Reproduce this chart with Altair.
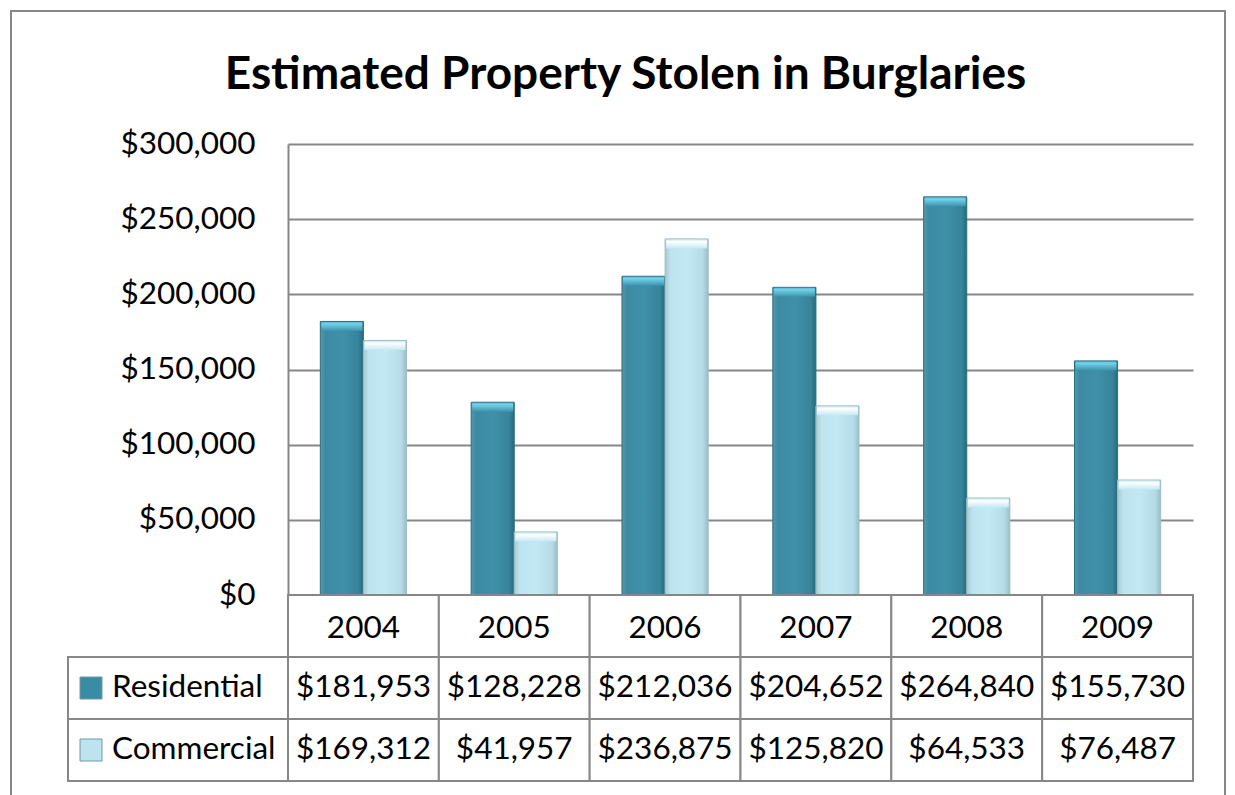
import altair as alt
import pandas as pd

# ---------------- data ----------------
years = ["2004", "2005", "2006", "2007", "2008", "2009"]
residential = [181953, 128228, 212036, 204652, 264840, 155730]
commercial = [169312, 41957, 236875, 125820, 64533, 76487]
series_names = ["Residential", "Commercial"]
y_ticks = [0, 50000, 100000, 150000, 200000, 250000, 300000]
title_text = "Estimated Property Stolen in Burglaries"

res_df = pd.DataFrame({"year": years, "series": "Residential", "value": residential})
com_df = pd.DataFrame({"year": years, "series": "Commercial", "value": commercial})
long_df = pd.concat([res_df, com_df], ignore_index=True)
tbl_df = long_df.assign(row=long_df["series"])
hdr_df = pd.DataFrame({"year": years, "row": "hdr"})
row_df = pd.DataFrame({"row": series_names})
frame_df = pd.DataFrame({"a": [0]})

# ---------------- styling ----------------
W, H = 905, 451
TAB_TOP, TAB_BOT = 451, 637
GRAY = "#878787"
FONT = "Lato"
FS = 31.5

res_grad = {"gradient": "linear", "x1": 0, "x2": 1, "y1": 0, "y2": 0,
            "stops": [{"offset": 0, "color": "#5a97a8"},
                      {"offset": 0.12, "color": "#3a8aa2"},
                      {"offset": 0.5, "color": "#3f91a9"},
                      {"offset": 0.88, "color": "#37849b"},
                      {"offset": 1, "color": "#276a7d"}]}
com_grad = {"gradient": "linear", "x1": 0, "x2": 1, "y1": 0, "y2": 0,
            "stops": [{"offset": 0, "color": "#a6c6cd"},
                      {"offset": 0.12, "color": "#bde3ee"},
                      {"offset": 0.5, "color": "#c3e9f4"},
                      {"offset": 0.88, "color": "#b4dbe6"},
                      {"offset": 1, "color": "#9bbcc4"}]}
res_cap = {"gradient": "linear", "x1": 0, "x2": 0, "y1": 0, "y2": 1,
           "stops": [{"offset": 0, "color": "#5fb4c9"},
                     {"offset": 0.2, "color": "#72d3ec"},
                     {"offset": 1, "color": "#3f91a9"}]}
com_cap = {"gradient": "linear", "x1": 0, "x2": 0, "y1": 0, "y2": 1,
           "stops": [{"offset": 0, "color": "#c9eaf2"},
                     {"offset": 0.25, "color": "#ffffff"},
                     {"offset": 1, "color": "#c3e9f4"}]}

x_enc = alt.X("year:N", sort=years,
              scale=alt.Scale(domain=years, paddingInner=0, paddingOuter=0), axis=None)
xoff = alt.XOffset("series:N",
                   scale=alt.Scale(domain=series_names, paddingInner=0, paddingOuter=0.75))
y_val = alt.Y("value:Q",
              scale=alt.Scale(domain=[0, 300000], nice=False),
              axis=alt.Axis(values=y_ticks, format="$,.0f", title=None, grid=True,
                            gridColor=GRAY, gridWidth=2, domain=True, domainColor=GRAY,
                            domainWidth=2, ticks=False, labelFont=FONT, labelFontSize=FS,
                            labelColor="black", labelPadding=33))
y_tab = alt.Y("row:N",
              scale=alt.Scale(type="band", domain=["hdr"] + series_names,
                              range=[TAB_TOP, TAB_BOT], paddingInner=0, paddingOuter=0),
              axis=None)

# ---------------- bars ----------------
res_bars = alt.Chart(res_df).mark_bar(fill=res_grad, stroke="#2b6d80", strokeWidth=1).encode(
    x=x_enc, xOffset=xoff, y=y_val)
com_bars = alt.Chart(com_df).mark_bar(fill=com_grad, stroke="#9dbec6", strokeWidth=1).encode(
    x=x_enc, xOffset=xoff, y=y_val)
res_caps = alt.Chart(res_df).mark_tick(thickness=9, size=41, yOffset=5, fill=res_cap,
                                       opacity=1).encode(x=x_enc, xOffset=xoff, y=y_val)
com_caps = alt.Chart(com_df).mark_tick(thickness=9, size=41, yOffset=5, fill=com_cap,
                                       opacity=1).encode(x=x_enc, xOffset=xoff, y=y_val)
bars = alt.layer(res_bars, com_bars, res_caps, com_caps)

# ---------------- data table ----------------
cell = dict(fill="white", stroke=GRAY, strokeWidth=2)
hdr_cells = alt.Chart(hdr_df).mark_rect(**cell).encode(x=x_enc, y=y_tab)
data_cells = alt.Chart(tbl_df).mark_rect(**cell).encode(x=x_enc, y=y_tab)
left_cells = alt.Chart(row_df).mark_rect(**cell).encode(
    x=alt.value(-220), x2=alt.value(0), y=y_tab)
hdr_text = alt.Chart(hdr_df).mark_text(font=FONT, fontSize=FS, color="black", dy=3).encode(
    x=x_enc, y=y_tab, text="year:N")
data_text = alt.Chart(tbl_df).mark_text(font=FONT, fontSize=FS, color="black").encode(
    x=x_enc, y=y_tab, text=alt.Text("value:Q", format="$,.0f"))
row_text = alt.Chart(row_df).mark_text(font=FONT, fontSize=FS, color="black",
                                       align="left").encode(
    x=alt.value(-176), y=y_tab, text="row:N")
row_sym = alt.Chart(row_df).mark_square(size=484, opacity=1, filled=True,
                                        stroke="#6f9aa5", strokeWidth=1).encode(
    x=alt.value(-197), y=y_tab,
    color=alt.Color("row:N", scale=alt.Scale(domain=series_names,
                                             range=["#3a8ca4", "#bde3ee"]), legend=None))
table = alt.layer(hdr_cells, data_cells, left_cells, hdr_text, data_text, row_text, row_sym)

# ---------------- outer frame ----------------
frame = alt.Chart(frame_df).mark_rect(fillOpacity=0, stroke=GRAY, strokeWidth=2).encode(
    x=alt.value(-277), x2=alt.value(937), y=alt.value(-133), y2=alt.value(720))

chart = alt.layer(bars, table, frame).resolve_scale(y="independent").properties(
    width=W, height=H,
    title=alt.Title(title_text, font=FONT, fontSize=46, fontWeight="bold", color="black",
                    anchor="middle", dx=-115, offset=-89),
    padding={"left": 280, "top": 136, "right": 34, "bottom": 200},
    autosize=alt.AutoSizeParams(type="none"),
).configure(background="white").configure_view(stroke="transparent", strokeWidth=0)

chart.save("out.html", embed_options={"renderer": "svg", "actions": False})
